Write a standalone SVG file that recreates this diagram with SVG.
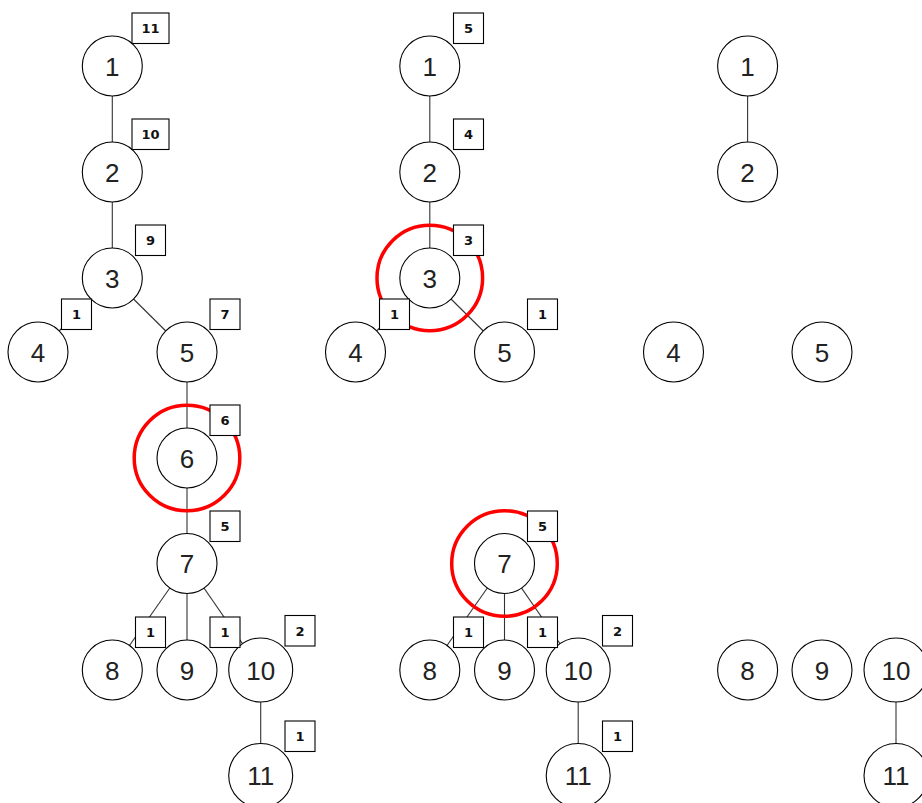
<svg xmlns="http://www.w3.org/2000/svg" width="922" height="803" viewBox="0 0 922 803">
<style>
.n circle{fill:#fff;stroke:#000;stroke-width:1.1}
.n text{font-family:"Liberation Sans","DejaVu Sans",sans-serif;font-size:26px;fill:#222;text-anchor:middle}
.b rect{fill:#fff;stroke:#000;stroke-width:1.1}
.b text{font-family:"DejaVu Sans",sans-serif;font-weight:bold;font-size:13px;fill:#111;text-anchor:middle}
.e line{stroke:#333;stroke-width:1.1}
.hl{fill:none;stroke:#f00;stroke-width:3.5}
</style>
<rect width="922" height="803" fill="#fff"/>
<g id="edges" class="e">
<line x1="112.3" y1="66" x2="112.3" y2="172"/>
<line x1="112.3" y1="172" x2="112.3" y2="278"/>
<line x1="112.3" y1="278" x2="38" y2="352"/>
<line x1="112.3" y1="278" x2="187" y2="352"/>
<line x1="187" y1="352" x2="187" y2="458"/>
<line x1="187" y1="458" x2="187" y2="563.5"/>
<line x1="187" y1="563.5" x2="112.3" y2="670"/>
<line x1="187" y1="563.5" x2="187" y2="670"/>
<line x1="187" y1="563.5" x2="260.7" y2="670"/>
<line x1="260.7" y1="670" x2="260.7" y2="775.5"/>
<line x1="429.8" y1="66" x2="429.8" y2="172"/>
<line x1="429.8" y1="172" x2="429.8" y2="278"/>
<line x1="429.8" y1="278" x2="355.5" y2="352"/>
<line x1="429.8" y1="278" x2="504.5" y2="352"/>
<line x1="504.5" y1="563.5" x2="429.8" y2="670"/>
<line x1="504.5" y1="563.5" x2="504.5" y2="670"/>
<line x1="504.5" y1="563.5" x2="578.2" y2="670"/>
<line x1="578.2" y1="670" x2="578.2" y2="775.5"/>
<line x1="747.6" y1="66" x2="747.6" y2="172"/>
<line x1="896" y1="670" x2="896" y2="775.5"/>
</g>
<g id="highlights">
<circle class="hl" cx="187" cy="458" r="52.8"/>
<circle class="hl" cx="429.8" cy="278" r="52.8"/>
<circle class="hl" cx="504.5" cy="563.5" r="52.8"/>
</g>
<g id="t1n1" class="n"><circle cx="112.3" cy="66" r="30"/><text x="112.3" y="75.5">1</text></g>
<g id="t1n2" class="n"><circle cx="112.3" cy="172" r="30"/><text x="112.3" y="181.5">2</text></g>
<g id="t1n3" class="n"><circle cx="112.3" cy="278" r="30"/><text x="112.3" y="287.5">3</text></g>
<g id="t1n4" class="n"><circle cx="38" cy="352" r="30"/><text x="38" y="361.5">4</text></g>
<g id="t1n5" class="n"><circle cx="187" cy="352" r="30"/><text x="187" y="361.5">5</text></g>
<g id="t1n6" class="n"><circle cx="187" cy="458" r="30"/><text x="187" y="467.5">6</text></g>
<g id="t1n7" class="n"><circle cx="187" cy="563.5" r="30"/><text x="187" y="573">7</text></g>
<g id="t1n8" class="n"><circle cx="112.3" cy="670" r="30"/><text x="112.3" y="679.5">8</text></g>
<g id="t1n9" class="n"><circle cx="187" cy="670" r="30"/><text x="187" y="679.5">9</text></g>
<g id="t1n10" class="n"><circle cx="260.7" cy="670" r="32"/><text x="260.7" y="679.5">10</text></g>
<g id="t1n11" class="n"><circle cx="260.7" cy="775.5" r="32"/><text x="260.7" y="785">11</text></g>
<g id="t2n1" class="n"><circle cx="429.8" cy="66" r="30"/><text x="429.8" y="75.5">1</text></g>
<g id="t2n2" class="n"><circle cx="429.8" cy="172" r="30"/><text x="429.8" y="181.5">2</text></g>
<g id="t2n3" class="n"><circle cx="429.8" cy="278" r="30"/><text x="429.8" y="287.5">3</text></g>
<g id="t2n4" class="n"><circle cx="355.5" cy="352" r="30"/><text x="355.5" y="361.5">4</text></g>
<g id="t2n5" class="n"><circle cx="504.5" cy="352" r="30"/><text x="504.5" y="361.5">5</text></g>
<g id="t2n7" class="n"><circle cx="504.5" cy="563.5" r="30"/><text x="504.5" y="573">7</text></g>
<g id="t2n8" class="n"><circle cx="429.8" cy="670" r="30"/><text x="429.8" y="679.5">8</text></g>
<g id="t2n9" class="n"><circle cx="504.5" cy="670" r="30"/><text x="504.5" y="679.5">9</text></g>
<g id="t2n10" class="n"><circle cx="578.2" cy="670" r="32"/><text x="578.2" y="679.5">10</text></g>
<g id="t2n11" class="n"><circle cx="578.2" cy="775.5" r="32"/><text x="578.2" y="785">11</text></g>
<g id="t3n1" class="n"><circle cx="747.6" cy="66" r="30"/><text x="747.6" y="75.5">1</text></g>
<g id="t3n2" class="n"><circle cx="747.6" cy="172" r="30"/><text x="747.6" y="181.5">2</text></g>
<g id="t3n4" class="n"><circle cx="673.5" cy="352" r="30"/><text x="673.5" y="361.5">4</text></g>
<g id="t3n5" class="n"><circle cx="822" cy="352" r="30"/><text x="822" y="361.5">5</text></g>
<g id="t3n8" class="n"><circle cx="747.6" cy="670" r="30"/><text x="747.6" y="679.5">8</text></g>
<g id="t3n9" class="n"><circle cx="822" cy="670" r="30"/><text x="822" y="679.5">9</text></g>
<g id="t3n10" class="n"><circle cx="896" cy="670" r="32"/><text x="896" y="679.5">10</text></g>
<g id="t3n11" class="n"><circle cx="896" cy="775.5" r="32"/><text x="896" y="785">11</text></g>
<g id="badges" class="b">
<rect x="132" y="13" width="37" height="30.5"/><text x="150.5" y="33">11</text>
<rect x="132" y="119" width="37" height="30.5"/><text x="150.5" y="139">10</text>
<rect x="135.5" y="225" width="30" height="30.5"/><text x="150.5" y="245">9</text>
<rect x="61.5" y="299" width="30" height="30.5"/><text x="76.5" y="319">1</text>
<rect x="210" y="299" width="30" height="30.5"/><text x="225" y="319">7</text>
<rect x="210" y="405" width="30" height="30.5"/><text x="225" y="425">6</text>
<rect x="210" y="511" width="30" height="30.5"/><text x="225" y="531">5</text>
<rect x="135.5" y="617" width="30" height="30.5"/><text x="150.5" y="637">1</text>
<rect x="210" y="617" width="30" height="30.5"/><text x="225" y="637">1</text>
<rect x="285" y="615.5" width="30" height="30.5"/><text x="300" y="635.5">2</text>
<rect x="285" y="721" width="30" height="30.5"/><text x="300" y="741">1</text>
<rect x="453.5" y="13" width="30" height="30.5"/><text x="468.5" y="33">5</text>
<rect x="453.5" y="119" width="30" height="30.5"/><text x="468.5" y="139">4</text>
<rect x="453.5" y="225" width="30" height="30.5"/><text x="468.5" y="245">3</text>
<rect x="379.5" y="299" width="30" height="30.5"/><text x="394.5" y="319">1</text>
<rect x="527.5" y="299" width="30" height="30.5"/><text x="542.5" y="319">1</text>
<rect x="527.5" y="511" width="30" height="30.5"/><text x="542.5" y="531">5</text>
<rect x="453.5" y="617" width="30" height="30.5"/><text x="468.5" y="637">1</text>
<rect x="527.5" y="617" width="30" height="30.5"/><text x="542.5" y="637">1</text>
<rect x="602.5" y="615.5" width="30" height="30.5"/><text x="617.5" y="635.5">2</text>
<rect x="602.5" y="721" width="30" height="30.5"/><text x="617.5" y="741">1</text>
</g>
</svg>
